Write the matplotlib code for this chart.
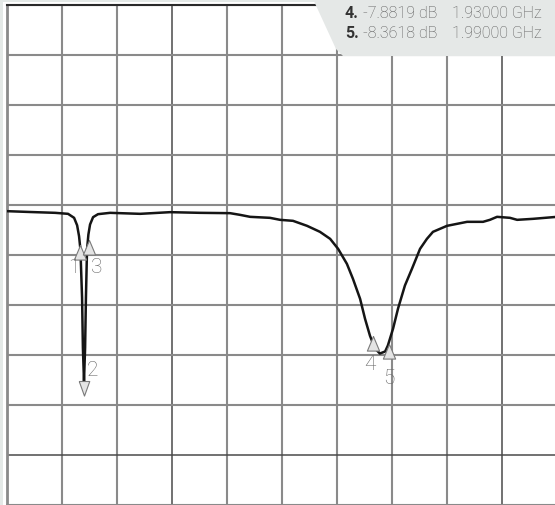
import matplotlib
matplotlib.use("Agg")
import matplotlib.pyplot as plt
from matplotlib.patches import Polygon, Rectangle
import numpy as np

# ---- data ----
freq_ghz = [0.600, 0.684, 0.775, 0.822, 0.844, 0.855, 0.862, 0.867, 0.873, 0.876,
            0.880, 0.884, 0.887, 0.891, 0.896, 0.902, 0.913, 0.931, 0.975, 1.084,
            1.193, 1.302, 1.411, 1.447, 1.484, 1.556, 1.593, 1.640, 1.691, 1.738,
            1.775, 1.804, 1.836, 1.858, 1.884, 1.902, 1.920, 1.938, 1.956, 1.975,
            1.985, 2.004, 2.022, 2.047, 2.073, 2.102, 2.127, 2.149, 2.200, 2.273,
            2.331, 2.356, 2.382, 2.429, 2.455, 2.513, 2.600]
s21_db = [-0.40, -0.45, -0.50, -0.56, -0.80, -1.25, -1.90, -2.70, -5.60, -8.60,
          -10.60, -8.60, -5.60, -2.70, -1.80, -1.20, -0.76, -0.58, -0.50, -0.56,
          -0.46, -0.50, -0.52, -0.62, -0.74, -0.80, -0.92, -0.98, -1.28, -1.64,
          -2.06, -2.66, -3.56, -4.46, -5.66, -6.86, -7.88, -8.64, -8.94, -8.82,
          -8.46, -7.44, -6.24, -4.86, -3.84, -2.66, -2.06, -1.64, -1.28, -1.04,
          -1.04, -0.92, -0.74, -0.80, -0.92, -0.86, -0.74]

marker_ids = ["1", "2", "3", "4", "5"]
marker_freq = [0.865, 0.880, 0.897, 1.93, 1.99]
marker_db = [-2.4, -10.60, -2.1, -7.8819, -8.3618]

readout_ids = ["4.", "5."]
readout_db = ["-7.8819 dB", "-8.3618 dB"]
readout_freq = ["1.93000 GHz", "1.99000 GHz"]

x_ticks = np.round(np.arange(0.6, 2.61, 0.2), 2)
y_ticks = np.arange(-18, 12.1, 3)

FONT = ["Roboto", "DejaVu Sans"]

# ---- figure ----
W, H = 555, 506
fig = plt.figure(figsize=(W / 100, H / 100), dpi=100, facecolor="#e4e9e7")
fig.add_artist(Rectangle((3 / W, 0), 1, (H - 3) / H, transform=fig.transFigure,
                         facecolor="white", edgecolor="none", zorder=-10))

ax = fig.add_axes([7 / W, 0.5 / H, 550 / W, 500 / H])
ax.set_xlim(0.6, 2.6)
ax.set_ylim(-18, 12)
ax.set_xticks(x_ticks)
ax.set_yticks(y_ticks)
ax.tick_params(length=0, labelbottom=False, labelleft=False)
ax.grid(True, color="#8a8a8a", linewidth=1.5)
ax.set_axisbelow(True)
vgrid = ax.xaxis.get_gridlines()
hgrid = ax.yaxis.get_gridlines()
for i in (3, 9):
    vgrid[i].set_color("#4a4a4a")
    vgrid[i].set_linewidth(1.1)
hgrid[1].set_color("#4a4a4a")
hgrid[1].set_linewidth(1.1)
for name, sp in ax.spines.items():
    sp.set_linewidth(2)
    sp.set_color("#8a8a8a")
ax.spines["top"].set_color("#2a2a2a")
ax.spines["top"].set_linewidth(1.5)

ax.plot(freq_ghz, s21_db, color="#151515", linewidth=1.8, zorder=3)

# markers
up_tri = [(0, 0), (-0.42, -1), (0.42, -1), (0, 0)]
down_tri = [(-0.36, 0), (0.36, 0), (0, -1), (-0.36, 0)]
label_offsets = {"1": (-6, -22), "2": (9, 12), "3": (8, -27), "4": (-3, -28), "5": (0, -34)}
for mid, f, d in zip(marker_ids, marker_freq, marker_db):
    verts = down_tri if mid == "2" else up_tri
    ax.plot([f], [d], linestyle="none", marker=verts, markersize=21,
            markerfacecolor="#e4e4e4", markeredgecolor="#7a7a7a", markeredgewidth=0.8,
            zorder=4)
    ax.annotate(mid, (f, d), xytext=label_offsets[mid], textcoords="offset pixels",
                ha="center", va="center", fontsize=15, color="#666666",
                family=FONT, fontweight="light", zorder=5)

# readout box
box = [(313, 0), (336, 50), (343, 57), (W, 57), (W, 0)]
fig.add_artist(Polygon([(x / W, 1 - y / H) for x, y in box], closed=True,
                       transform=fig.transFigure, facecolor="#e5e8e7",
                       edgecolor="none", zorder=5))
for i, (rid, rdb, rf) in enumerate(zip(readout_ids, readout_db, readout_freq)):
    yc = 1 - (13.5 + 19.5 * i) / H
    fig.text(345 / W, yc, rid, ha="left", va="center", fontsize=11.5,
             fontweight="bold", color="#333333", family=FONT, zorder=6)
    fig.text(363 / W, yc, rdb, ha="left", va="center", fontsize=11.5,
             color="#5a5a5a", family=FONT, fontweight="light", zorder=6)
    fig.text(452 / W, yc, rf, ha="left", va="center", fontsize=11.5,
             color="#5a5a5a", family=FONT, fontweight="light", zorder=6)

fig.savefig("out.png", dpi=100, facecolor=fig.get_facecolor())
